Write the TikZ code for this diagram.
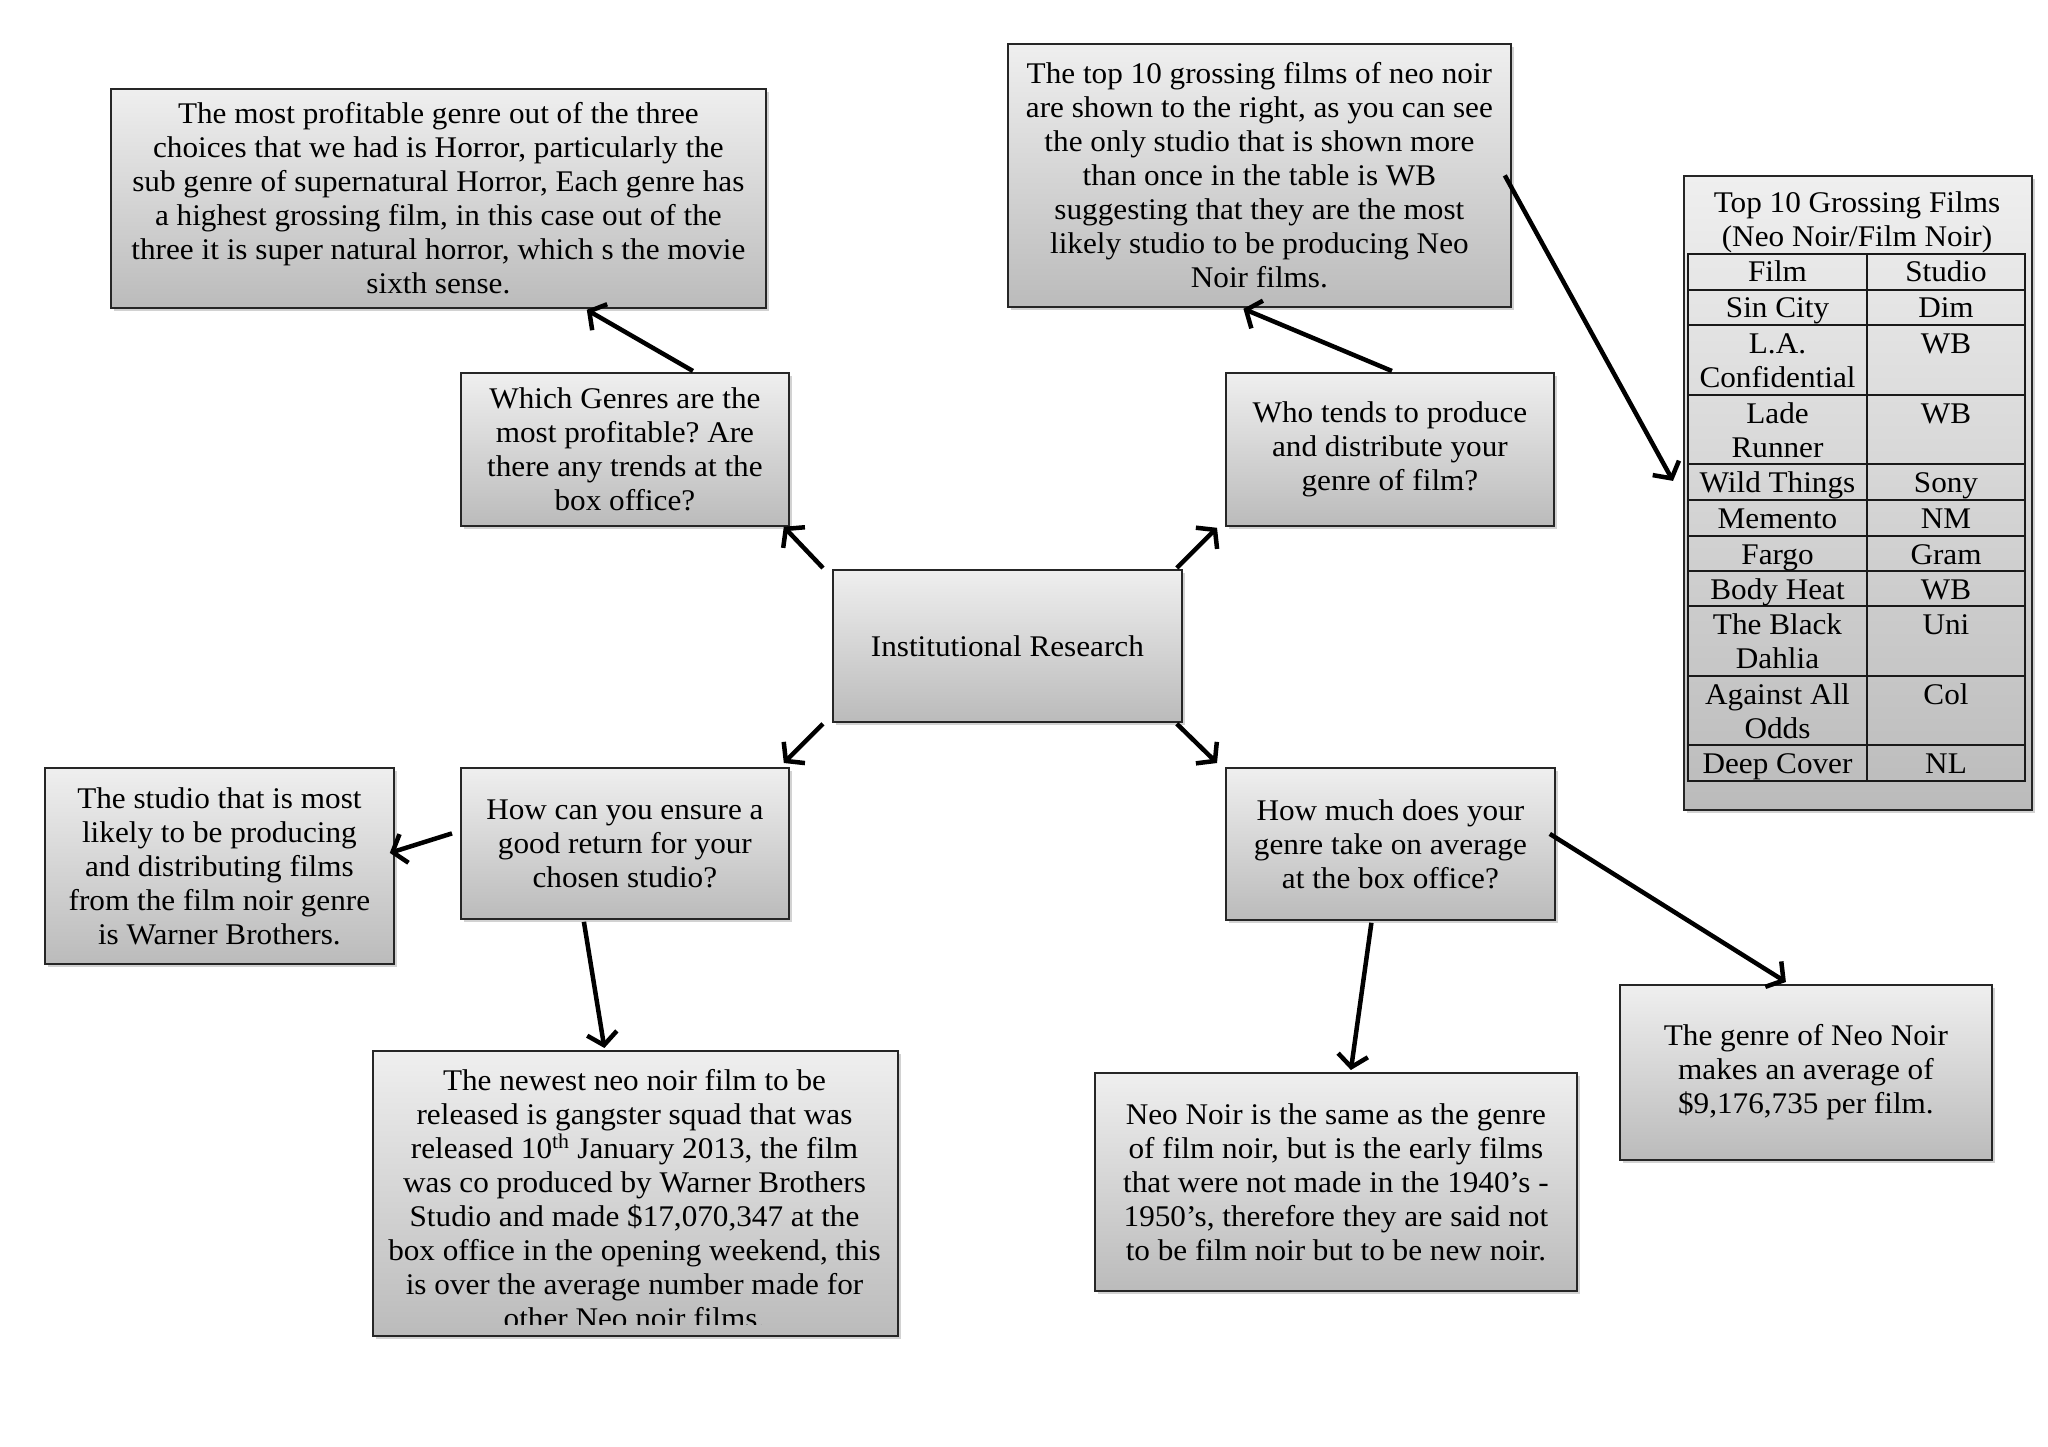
\documentclass[tikz,border=0pt]{standalone}
\usepackage{fontspec}
\setmainfont{Liberation Serif}[FakeStretch=1.04]
\usetikzlibrary{arrows.meta,shadows,calc}
\definecolor{boxtop}{HTML}{EFEFEF}
\definecolor{boxbot}{HTML}{BBBBBB}
\frenchspacing
\begin{document}
\begin{tikzpicture}[x=1pt,y=-1pt,
  box/.style={draw=black!85, line width=1.8pt, top color=boxtop, bottom color=boxbot,
    align=center, inner sep=0pt, font=\fontsize{30}{34}\selectfont,
    drop shadow={shadow xshift=3pt, shadow yshift=-3pt, fill=black!35, opacity=0.5},
    anchor=north west},
  arr/.style={line width=4.5pt, -{Straight Barb[length=12pt,width=30pt]}},
  cell/.style={anchor=north, inner sep=0pt, align=center, font=\fontsize{30}{34}\selectfont},
  gridline/.style={line width=1.5pt, draw=black!90}
]
\useasboundingbox[fill=white] (0,0) rectangle (2048,1447);

% boxes
\node[box, minimum width=655pt, minimum height=219pt] (tl) at (110,88)
  {The most profitable genre out of the three\\choices that we had is Horror, particularly the\\sub genre of supernatural Horror, Each genre has\\a highest grossing film, in this case out of the\\three it is super natural horror, which s the movie\\sixth sense.};
\node[box, minimum width=328pt, minimum height=153pt] (q1) at (460,372)
  {Which Genres are the\\most profitable? Are\\there any trends at the\\box office?};
\node[box, minimum width=349pt, minimum height=152pt] (c) at (832,569)
  {Institutional Research};
\node[box, minimum width=503pt, minimum height=263pt] (tm) at (1007,43)
  {The top 10 grossing films of neo noir\\are shown to the right, as you can see\\the only studio that is shown more\\than once in the table is WB\\suggesting that they are the most\\likely studio to be producing Neo\\Noir films.};
\node[box, minimum width=328pt, minimum height=153pt] (q2) at (1225,372)
  {Who tends to produce\\and distribute your\\genre of film?};
\node[box, minimum width=348pt, minimum height=634pt] (tab) at (1683,175) {};
\node[box, minimum width=328pt, minimum height=151pt] (q3) at (460,767)
  {How can you ensure a\\good return for your\\chosen studio?};
\node[box, minimum width=349pt, minimum height=196pt] (lb) at (44,767)
  {The studio that is most\\likely to be producing\\and distributing films\\from the film noir genre\\is Warner Brothers.};
\node[box, minimum width=525pt, minimum height=285pt] (bl) at (372,1050) {};
\begin{scope}
  \clip (bl.north west) rectangle ([yshift=12pt]bl.south east);
  \node[cell] (bltext) at (634.5,1066)
    {\strut The newest neo noir film to be\\released is gangster squad that was\\released 10\textsuperscript{th} January 2013, the film\\was co produced by Warner Brothers\\Studio and made \$17,070,347 at the\\box office in the opening weekend, this\\is over the average number made for\\other Neo noir films.};
\end{scope}
\node[box, minimum width=329pt, minimum height=152pt] (q4) at (1225,767)
  {How much does your\\genre take on average\\at the box office?};
\node[box, minimum width=482pt, minimum height=218pt] (bm) at (1094,1072)
  {Neo Noir is the same as the genre\\of film noir, but is the early films\\that were not made in the 1940’s -\\1950’s, therefore they are said not\\to be film noir but to be new noir.};
\node[box, minimum width=372pt, minimum height=175pt] (rb) at (1619,984)
  {The genre of Neo Noir\\makes an average of\\\$9,176,735 per film.};

% table
\node[cell] (tabtitle) at (1857,189) {\strut Top 10 Grossing Films\\(Neo Noir/Film Noir)};
\draw[gridline] (1688,254) rectangle (2025,781);
\draw[gridline] (1867,254) -- (1867,781);
\foreach \yy in {290,325,395,464,500,536,571,606,676,745}
  \draw[gridline] (1688,\yy) -- (2025,\yy);
\node[cell] (f0) at (1777.5,258) {\strut Film};
\node[cell] (s0) at (1946,258) {\strut Studio};
\node[cell] (f1) at (1777.5,294) {\strut Sin City};
\node[cell] (s1) at (1946,294) {\strut Dim};
\node[cell] (f2) at (1777.5,329) {\strut L.A.\\Confidential};
\node[cell] (s2) at (1946,329) {\strut WB};
\node[cell] (f3) at (1777.5,399) {\strut Lade\\Runner};
\node[cell] (s3) at (1946,399) {\strut WB};
\node[cell] (f4) at (1777.5,468) {\strut Wild Things};
\node[cell] (s4) at (1946,468) {\strut Sony};
\node[cell] (f5) at (1777.5,504) {\strut Memento};
\node[cell] (s5) at (1946,504) {\strut NM};
\node[cell] (f6) at (1777.5,540) {\strut Fargo};
\node[cell] (s6) at (1946,540) {\strut Gram};
\node[cell] (f7) at (1777.5,575) {\strut Body Heat};
\node[cell] (s7) at (1946,575) {\strut WB};
\node[cell] (f8) at (1777.5,610) {\strut The Black\\Dahlia};
\node[cell] (s8) at (1946,610) {\strut Uni};
\node[cell] (f9) at (1777.5,680) {\strut Against All\\Odds};
\node[cell] (s9) at (1946,680) {\strut Col};
\node[cell] (f10) at (1777.5,749) {\strut Deep Cover};
\node[cell] (s10) at (1946,749) {\strut NL};

% connectors
\draw[arr] ([shift={(-9,-1)}]c.north west) -- ([shift={(-6,0)}]q1.south east);
\draw[arr] ([shift={(-6,-1)}]c.north east) -- ([shift={(-8,1)}]q2.south west);
\draw[arr] ([shift={(-9,1)}]c.south west) -- ([shift={(-6,-4)}]q3.north east);
\draw[arr] ([shift={(-6,1)}]c.south east) -- ([shift={(-8,-4)}]q4.north west);
\draw[arr] ([shift={(68,-1)}]q1.north) -- ([shift={(-180,1)}]tl.south east);
\draw[arr] ([shift={(2,-1)}]q2.north) -- ([shift={(-16,1)}]tm.south);
\draw[arr] ([shift={(-7,0)}]tm.east) -- ([shift={(-10,-12)}]tab.west);
\draw[arr] ([shift={(-8,-10)}]q3.west) -- ([shift={(-5,-13)}]lb.east);
\draw[arr] ([shift={(-41,2)}]q3.south) -- ([shift={(-31,-2)}]bl.north);
\draw[arr] ([shift={(-19,2)}]q4.south) -- ([shift={(15,-2)}]bm.north);
\draw[arr] ([shift={(-6,-10)}]q4.east) -- ([shift={(-20,-2)}]rb.north);
\end{tikzpicture}
\end{document}
